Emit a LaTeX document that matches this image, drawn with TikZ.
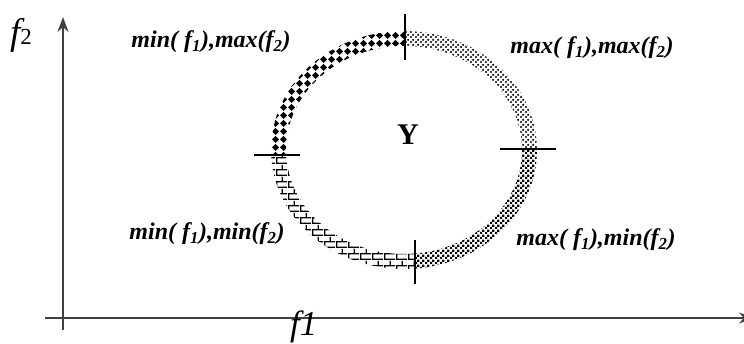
\documentclass[tikz,border=0pt]{standalone}
\usepackage{fontspec}
\setmainfont{Liberation Serif}
\usetikzlibrary{patterns,arrows.meta}

\pgfdeclarepatternformonly{bigcheck}{\pgfpointorigin}{\pgfpoint{8pt}{8pt}}{\pgfpoint{8pt}{8pt}}{%
  \pgfpathmoveto{\pgfpoint{4pt}{0pt}}%
  \pgfpathlineto{\pgfpoint{8pt}{4pt}}%
  \pgfpathlineto{\pgfpoint{4pt}{8pt}}%
  \pgfpathlineto{\pgfpoint{0pt}{4pt}}%
  \pgfpathclose
  \pgfusepath{fill}}
\pgfdeclarepatternformonly{finecheck}{\pgfpointorigin}{\pgfpoint{5pt}{5pt}}{\pgfpoint{5pt}{5pt}}{%
  \pgfpathrectangle{\pgfpointorigin}{\pgfpoint{2.6pt}{2.6pt}}%
  \pgfpathrectangle{\pgfpoint{2.5pt}{2.5pt}}{\pgfpoint{2.6pt}{2.6pt}}%
  \pgfusepath{fill}}
\pgfdeclarepatternformonly{dotcheck}{\pgfpointorigin}{\pgfpoint{5pt}{5pt}}{\pgfpoint{5pt}{5pt}}{%
  \pgfpathcircle{\pgfpoint{1.25pt}{1.25pt}}{1.35pt}%
  \pgfpathcircle{\pgfpoint{3.75pt}{3.75pt}}{1.35pt}%
  \pgfusepath{fill}}
\pgfdeclarepatternformonly{mybricks}{\pgfpointorigin}{\pgfpoint{12pt}{12pt}}{\pgfpoint{12pt}{12pt}}{%
  \pgfsetlinewidth{1.5pt}%
  \pgfpathmoveto{\pgfpoint{0pt}{0.75pt}}\pgfpathlineto{\pgfpoint{12pt}{0.75pt}}%
  \pgfpathmoveto{\pgfpoint{0pt}{6.75pt}}\pgfpathlineto{\pgfpoint{12pt}{6.75pt}}%
  \pgfpathmoveto{\pgfpoint{0.75pt}{0.75pt}}\pgfpathlineto{\pgfpoint{0.75pt}{6.75pt}}%
  \pgfpathmoveto{\pgfpoint{6.75pt}{6.75pt}}\pgfpathlineto{\pgfpoint{6.75pt}{12pt}}%
  \pgfusepath{stroke}}

\newcommand\bandpart[3]{%
  \fill[pattern=#3,pattern color=black]
    plot[domain=#1:#2,samples=40] ({404+133*cos(\x)},{150+119*sin(\x)})
    -- plot[domain=#2:#1,samples=40] ({404+118*cos(\x)},{150+104*sin(\x)}) -- cycle;}

\begin{document}
\begin{tikzpicture}[x=1pt,y=-1pt,
  axis/.style={draw=black!75,line width=1.3pt},
  tickmark/.style={line width=1.6pt},
  lab/.style={font=\fontsize{24}{24}\selectfont\bfseries\itshape,inner sep=0pt}]
\useasboundingbox (0,0) rectangle (744,343);
\fill[white] (0,0) rectangle (744,343);

% axes
\coordinate (ybot) at (63,330);
\coordinate (ytop) at (63,17);
\coordinate (xl) at (45,318);
\coordinate (xr) at (754,318);
\draw[axis,-{Stealth[length=15pt,width=11pt]}] (ybot) -- (ytop);
\draw[axis,-{Stealth[length=15pt,width=11pt]}] (xl) -- (xr);

% band quadrants
\bandpart{177}{270}{bigcheck}
\bandpart{270}{360}{dotcheck}
\bandpart{0}{85}{finecheck}
\bandpart{85}{177}{mybricks}

% tick marks
\coordinate (t1a) at (405,14);  \coordinate (t1b) at (405,60);
\coordinate (t2a) at (415,240); \coordinate (t2b) at (415,284);
\coordinate (t3a) at (254,155); \coordinate (t3b) at (300,155);
\coordinate (t4a) at (500,149); \coordinate (t4b) at (556,149);
\draw[tickmark] (t1a) -- (t1b);
\draw[tickmark] (t2a) -- (t2b);
\draw[tickmark] (t3a) -- (t3b);
\draw[tickmark] (t4a) -- (t4b);

% labels
\node[lab] (tl) at (211,42) {min( f\textsubscript{1}),max(f\textsubscript{2})};
\node[lab] (tr) at (592,48) {max( f\textsubscript{1}),max(f\textsubscript{2})};
\node[lab] (bl) at (207,234) {min( f\textsubscript{1}),min(f\textsubscript{2})};
\node[lab] (br) at (596,240) {max( f\textsubscript{1}),min(f\textsubscript{2})};
\node[font=\fontsize{30}{30}\selectfont\bfseries,inner sep=0pt] (Y) at (408,135) {Y};
\node[anchor=base west,inner sep=0pt] (f2) at (10,44) {\fontsize{37}{37}\selectfont\itshape f\fontsize{23}{23}\selectfont\upshape 2};
\node[anchor=base west,inner sep=0pt] (f1) at (290,335) {\fontsize{35}{35}\selectfont\itshape f1};
\end{tikzpicture}
\end{document}
